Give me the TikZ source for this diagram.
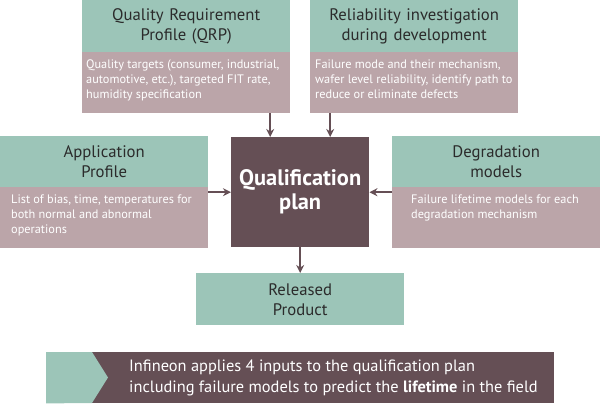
\documentclass[tikz,border=0pt]{standalone}
\usepackage{fontspec}
\setmainfont{PT Sans}
\usetikzlibrary{arrows.meta}
\definecolor{tealc}{HTML}{9CC5B8}
\definecolor{pinkc}{HTML}{BBA5A9}
\definecolor{darkc}{HTML}{654F55}
\definecolor{headtxt}{HTML}{2B2B2B}
\tikzset{
  head/.style={fill=tealc, text=headtxt, align=center, inner sep=0pt, anchor=north west,
    font=\fontsize{16.7}{20}\selectfont},
  bodybox/.style={fill=pinkc, inner sep=0pt, anchor=north west},
  bodytxt/.style={text=white, align=left, inner sep=0pt, anchor=north west,
    font=\fontsize{12.3}{15}\selectfont},
  arr/.style={draw=darkc, line width=1.5pt, -{Stealth[length=8pt,width=8pt,inset=2.5pt]}},
}
\begin{document}
\begin{tikzpicture}[x=1pt,y=-1pt]
\useasboundingbox (0,0) rectangle (600,405);
% QRP
\node[head, text width=208pt, minimum height=52pt] (qrph) at (82,0) {Quality Requirement\\Profile (QRP)};
\node[bodybox, minimum width=208pt, minimum height=61pt] (qrpb) at (82,52) {};
\node[bodytxt] (qrpt) at ([shift={(4,8)}]qrpb.north west) {Quality targets (consumer, industrial,\\automotive, etc.), targeted FIT rate,\\humidity specification};
% Reliability
\node[head, text width=208pt, minimum height=52pt] (relh) at (310,0) {Reliability investigation\\during development};
\node[bodybox, minimum width=208pt, minimum height=61pt] (relb) at (310,52) {};
\node[bodytxt] (relt) at ([shift={(5,8)}]relb.north west) {Failure mode and their mechanism,\\wafer level reliability, identify path to\\reduce or eliminate defects};
% Application
\node[head, text width=208pt, minimum height=51pt] (apph) at (0,136) {Application\\Profile};
\node[bodybox, minimum width=208pt, minimum height=61pt] (appb) at (0,187) {};
\node[bodytxt] (appt) at ([shift={(11,8)}]appb.north west) {List of bias, time, temperatures for\\both normal and abnormal\\operations};
% Degradation
\node[head, text width=208pt, minimum height=51pt] (degh) at (392,136) {Degradation\\models};
\node[bodybox, minimum width=208pt, minimum height=61pt] (degb) at (392,187) {};
\node[bodytxt] (degt) at ([shift={(19,8)}]degb.north west) {Failure lifetime models for each\\degradation mechanism};
% Qualification plan
\node[fill=darkc, text=white, align=center, inner sep=0pt, anchor=north west,
  minimum width=138pt, minimum height=110pt, font=\fontsize{22.4}{24}\selectfont\bfseries] (qual) at (231,137) {Qualification\\plan};
% Released product
\node[head, text width=208pt, minimum height=52pt] (rel) at (196,273) {Released\\Product};
% Banner
\node[fill=darkc, inner sep=0pt, anchor=north west, minimum width=508pt, minimum height=51pt] (ban) at (46,352) {};
\fill[tealc] (ban.north west) -- (92,352) -- (108,377.5) -- (92,403) -- (ban.south west) -- cycle;
\node[text=white, align=left, inner sep=0pt, anchor=west, font=\fontsize{16.4}{21}\selectfont] (bant) at (129,378) {Infineon applies 4 inputs to the qualification plan\\including failure models to predict the \textbf{lifetime} in the field};
% Arrows
\draw[arr] ([xshift=-30pt]qual.north |- qrpb.south) -- ([xshift=-30pt]qual.north);
\draw[arr] ([xshift=30pt]qual.north |- relb.south) -- ([xshift=30pt]qual.north);
\draw[arr] (qual.west -| appb.east) -- (qual.west);
\draw[arr] (qual.east -| degb.west) -- (qual.east);
\draw[arr] (qual.south) -- (rel.north);
\end{tikzpicture}
\end{document}
